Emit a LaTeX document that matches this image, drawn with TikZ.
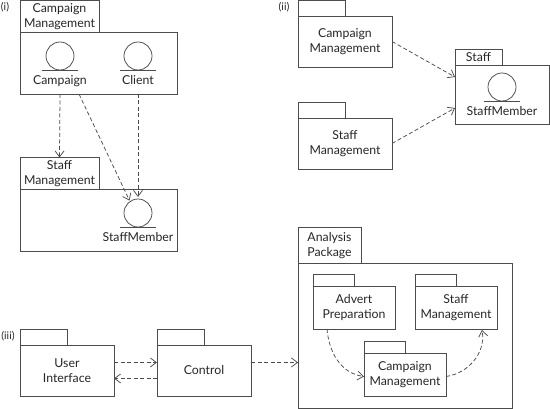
\documentclass[tikz,border=0pt]{standalone}
\usepackage{fontspec}
\setmainfont{Lato}
\usetikzlibrary{calc,positioning,arrows.meta}
\tikzset{
  pkgline/.style={draw=black!70,line width=0.75pt},
  pkgbody/.style={pkgline,rectangle,outer sep=0pt,inner sep=0pt,align=center,font=\fontsize{12.3}{15}\selectfont,text=black!85},
  bigbody/.style={pkgbody,minimum width=157pt,minimum height=62pt},
  midbody/.style={pkgbody,minimum width=94pt,minimum height=51pt},
  smallbody/.style={pkgbody,minimum width=82pt,minimum height=43pt},
  bigtab/.style={pkgbody,anchor=south west,minimum width=79pt,minimum height=31.5pt},
  midtab/.style={pkgbody,anchor=south west,minimum width=47pt,minimum height=16pt},
  smalltab/.style={pkgbody,anchor=south west,minimum width=41pt,minimum height=11.5pt},
  entity/.style={pkgline,circle,outer sep=0pt,inner sep=0pt,minimum size=28pt},
  entitytext/.style={inner sep=0pt,font=\fontsize{12.3}{15}\selectfont,text=black!85},
  panel/.style={inner sep=0pt,font=\fontsize{10.5}{12}\selectfont,text=black!85},
  dep/.style={draw=black!70,line width=0.75pt,dash pattern=on 4pt off 2.5pt,-{Straight Barb[length=6pt,width=9pt]}}
}
% one entity: circle, line under it, text below
\newcommand{\entity}[4]{
  \node[entity] (#1) at (#2,#3) {};
  \draw[pkgline] ($(#1.south)+(-18,0)$) -- ($(#1.south)+(18,0)$);
  \node[entitytext,below=5pt of #1.south] (#1text) {#4};
}
\begin{document}
\begin{tikzpicture}[x=1pt,y=-1pt]
\useasboundingbox (0,0) rectangle (550,409);
% (i)
\node[panel] (labi) at (5,7) {(i)};
\node[bigbody] (cmbody) at (98.5,63) {};
\node[bigtab] (cmtab) at (cmbody.north west) {Campaign\\Management};
\node[bigbody] (smbody) at (98.5,220) {};
\node[bigtab] (smtab) at (smbody.north west) {Staff\\Management};
\entity{campaign}{60}{56}{Campaign}
\entity{client}{138}{56}{Client}
\entity{member}{138}{213}{StaffMember}
\coordinate (cmfoot) at ($(cmbody.south west)+(59,0)$);
\draw[dep] (cmbody.south -| campaign) -- (smtab.north);
\draw[dep,shorten >=1pt] (cmfoot) -- (member.125);
\draw[dep,shorten >=2pt] (cmbody.south -| client) -- (member.north);
% (ii)
\node[panel] (labii) at (284,7) {(ii)};
\node[midbody] (cmbodyb) at (345,41.5) {Campaign\\Management};
\node[midtab] (cmtabb) at (cmbodyb.north west) {};
\node[midbody] (smbodyb) at (345,143.5) {Staff\\Management};
\node[midtab] (smtabb) at (smbodyb.north west) {};
\node[midbody,minimum height=59pt] (staffbody) at (502,94.5) {};
\node[midtab] (stafftab) at (staffbody.north west) {Staff};
\entity{memberb}{502}{87}{StaffMember}
\coordinate (staffin) at ($(staffbody.north west)+(0,12)$);
\coordinate (staffinb) at ($(staffbody.north west)+(0,43)$);
\draw[dep] (cmbodyb.east) -- (staffin);
\draw[dep] (smbodyb.east) -- (staffinb);
% (iii)
\node[panel] (labiii) at (8,336) {(iii)};
\node[midbody] (uibody) at (67,370.5) {User\\Interface};
\node[midtab] (uitab) at (uibody.north west) {};
\node[midbody] (ctbody) at (204,370.5) {Control};
\node[midtab] (cttab) at (ctbody.north west) {};
\node[pkgbody,minimum width=214pt,minimum height=145pt] (anbody) at (405,335.5) {};
\node[pkgbody,anchor=south west,minimum width=63pt,minimum height=35.5pt] (antab) at (anbody.north west) {Analysis\\Package};
\node[smallbody] (adbody) at (354,307.5) {Advert\\Preparation};
\node[smalltab] (adtab) at (adbody.north west) {};
\node[smallbody] (stbody) at (456,307.5) {Staff\\Management};
\node[smalltab] (sttab) at (stbody.north west) {};
\node[smallbody] (capbody) at (405,374.5) {Campaign\\Management};
\node[smalltab] (captab) at (capbody.north west) {};
\draw[dep] ($(uibody.east)+(0,-8)$) -- ($(ctbody.west)+(0,-8)$);
\draw[dep] ($(ctbody.west)+(0,8)$) -- ($(uibody.east)+(0,8)$);
\draw[dep] ($(ctbody.east)+(0,-8)$) -- (anbody.west |- 0,362.5);
\draw[dep] ($(adbody.south west)+(14,0)$) to[out=-85,in=172] ($(capbody.west)+(0,2)$);
\draw[dep] ($(capbody.east)+(0,2)$) to[out=8,in=-80] ($(stbody.south east)+(-15,1)$);
\end{tikzpicture}
\end{document}
